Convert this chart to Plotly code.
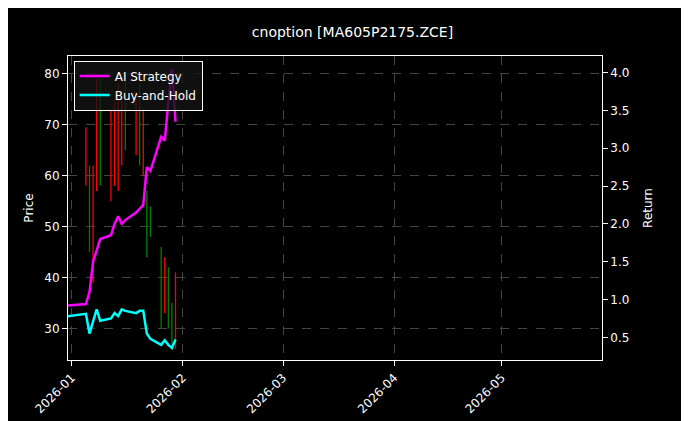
import plotly.graph_objects as go
from plotly.subplots import make_subplots

dates = ["2025-12-31","2026-01-05","2026-01-06","2026-01-07","2026-01-08","2026-01-09","2026-01-12","2026-01-13",
         "2026-01-14","2026-01-15","2026-01-16","2026-01-19","2026-01-20","2026-01-21","2026-01-22","2026-01-23",
         "2026-01-26","2026-01-27","2026-01-28","2026-01-29","2026-01-30"]
ai_ret = [0.92,0.94,1.10,1.50,1.65,1.80,1.85,2.00,2.10,2.00,2.05,2.15,2.20,2.25,2.75,2.70,3.15,3.10,3.60,4.05,3.35]
bh_ret = [0.78,0.81,0.55,0.70,0.87,0.72,0.75,0.82,0.78,0.87,0.85,0.82,0.85,0.85,0.55,0.48,0.40,0.46,0.40,0.36,0.47]

c_dates = dates[1:]
c_open  = [59,61,40,58,78,56,59,58,63,79,65,77,61,56,53,45,34,41,34,28]
c_high  = [69.5,62,62,79,79,73,75,78,77,80,75,78,73,57,54,46,44,42,35,41]
c_low   = [58,45,39,57,58,55,58,57,62,65,64,62,60,44,48,30,33,30,27,26]
c_close = [68,46,61,78,59,72,74,77,76,66,74,63,72,45,49,31,43,31,28,40]

fig = make_subplots(specs=[[{"secondary_y": True}]])
fig.add_trace(go.Ohlc(x=c_dates, open=c_open, high=c_high, low=c_low, close=c_close,
    increasing=dict(line=dict(color="red", width=1.3)),
    decreasing=dict(line=dict(color="green", width=1.3)),
    tickwidth=0, showlegend=False), secondary_y=False)
fig.add_trace(go.Scatter(x=dates, y=ai_ret, mode="lines", name="AI Strategy",
    line=dict(color="#ff00ff", width=2.5)), secondary_y=True)
fig.add_trace(go.Scatter(x=dates, y=bh_ret, mode="lines", name="Buy-and-Hold",
    line=dict(color="#00ffff", width=2.5)), secondary_y=True)

grid = dict(showgrid=True, gridcolor="#444", griddash="dash", gridwidth=0.5,
            showline=True, linecolor="white", mirror=True, ticks="outside",
            tickcolor="white", zeroline=False, automargin=False,
            tickfont=dict(color="white", size=12))
fig.update_layout(
    width=689, height=421, paper_bgcolor="black", plot_bgcolor="black",
    font=dict(family="DejaVu Sans", color="white", size=12),
    title=dict(text="cnoption [MA605P2175.ZCE]", x=0.5, y=0.955, xanchor="center", font=dict(size=14)),
    margin=dict(l=60, r=61, t=48, b=69),
    legend=dict(x=0.01, y=0.985, xanchor="left", yanchor="top", bgcolor="rgba(20,20,20,0.8)",
                bordercolor="white", borderwidth=1, font=dict(size=12)),
    xaxis=dict(range=["2025-12-31","2026-05-29"], rangeslider=dict(visible=False),
               tickformat="%Y-%m", dtick="M1", tickangle=-45, **grid),
)
fig.update_yaxes(range=[23.8, 83.5], title_text="Price", title_font=dict(size=12),
                 title_standoff=8, secondary_y=False, **grid)
fig.update_yaxes(range=[0.2, 4.22], title_text="Return", title_font=dict(size=12), secondary_y=True, dtick=0.5,
                 showgrid=False, showline=True, linecolor="white", ticks="outside", automargin=False,
                 tickcolor="white", zeroline=False, tickformat=".1f", tickfont=dict(size=12))
fig.write_html("out.html")
